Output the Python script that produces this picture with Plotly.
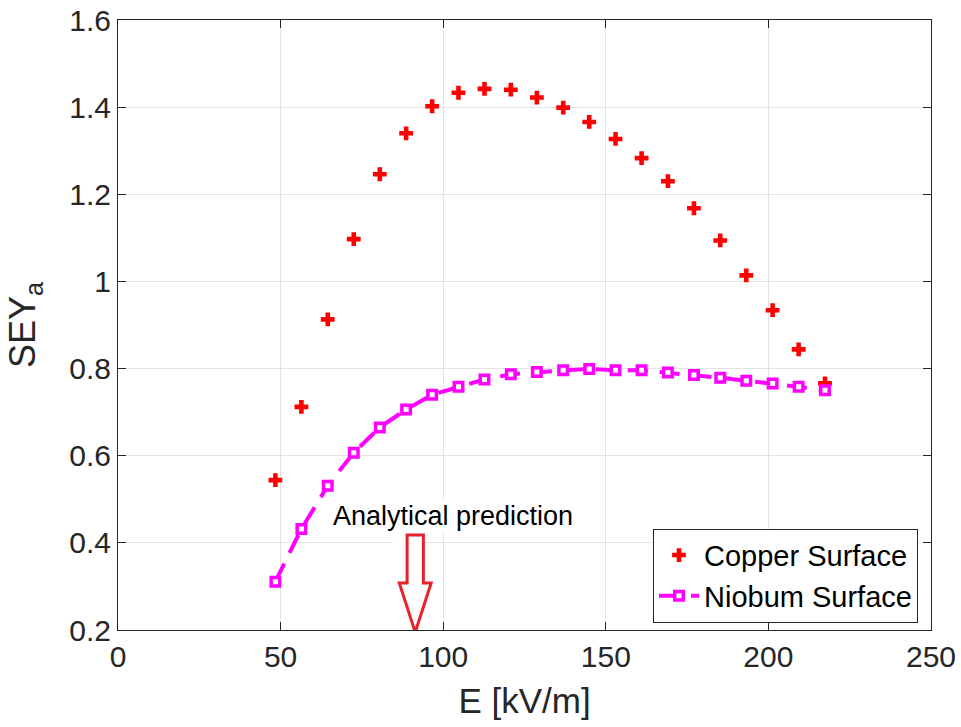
import plotly.graph_objects as go

# Electric field strength [kV/m]
e_field = [48.4, 56.4, 64.5, 72.5, 80.5, 88.6, 96.6, 104.7, 112.7, 120.8, 128.8,
           136.9, 144.9, 153.0, 161.0, 169.1, 177.1, 185.2, 193.2, 201.3, 209.3, 217.4]

# Secondary electron yield for each surface
sey_copper = [0.544, 0.712, 0.913, 1.097, 1.246, 1.340, 1.402, 1.433, 1.442, 1.440, 1.422,
              1.399, 1.366, 1.327, 1.283, 1.230, 1.168, 1.094, 1.014, 0.934, 0.844, 0.766]
sey_niobium = [0.311, 0.432, 0.531, 0.607, 0.665, 0.706, 0.740, 0.758, 0.775, 0.787, 0.792,
               0.796, 0.799, 0.796, 0.796, 0.791, 0.785, 0.779, 0.772, 0.766, 0.758, 0.750]

x_ticks = [0, 50, 100, 150, 200, 250]
y_ticks = [0.2, 0.4, 0.6, 0.8, 1.0, 1.2, 1.4, 1.6]
y_tick_text = ["0.2", "0.4", "0.6", "0.8", "1", "1.2", "1.4", "1.6"]

# Field value marked by the analytical model
analytical_e = 91.4

FONT = "Liberation Sans, Arial, sans-serif"
AXIS_COLOR = "#262626"
ARROW_RED = "#e8222b"

fig = go.Figure()

fig.add_trace(go.Scatter(
    x=e_field, y=sey_copper, mode="markers", name="Copper Surface",
    marker=dict(symbol="cross", size=11.5, color="#ff0000", line=dict(width=0)),
))
fig.add_trace(go.Scatter(
    x=e_field, y=sey_niobium, mode="lines+markers", name="Niobum Surface",
    line=dict(color="#ff00ff", width=4, dash="20px,12px"),
    marker=dict(symbol="square", size=8.5, color="white",
                line=dict(color="#ff00ff", width=3.5)),
))

# Hollow arrow pointing at the analytical prediction
hw_head, hw_shaft = 4.9, 2.5
y_top, y_base, y_tip = 0.418, 0.308, 0.195
x0 = analytical_e
arrow_path = (
    f"M {x0 - hw_shaft},{y_top} L {x0 + hw_shaft},{y_top} "
    f"L {x0 + hw_shaft},{y_base} L {x0 + hw_head},{y_base} "
    f"L {x0},{y_tip} L {x0 - hw_head},{y_base} "
    f"L {x0 - hw_shaft},{y_base} Z"
)
fig.add_shape(type="rect", xref="x", yref="y",
              x0=x0 - 7, x1=x0 + 2.8, y0=0.21, y1=0.48,
              fillcolor="white", line=dict(width=0), layer="above")
fig.add_shape(type="path", path=arrow_path, xref="x", yref="y",
              fillcolor="white", line=dict(color=ARROW_RED, width=3),
              layer="above")

fig.add_annotation(
    x=103, y=0.461, xref="x", yref="y", text="Analytical prediction",
    showarrow=False, bgcolor="white",
    font=dict(family=FONT, size=27, color="black"),
)

axis_common = dict(
    showline=True, linecolor=AXIS_COLOR, linewidth=1, mirror="allticks",
    ticks="inside", ticklen=8, tickcolor=AXIS_COLOR, tickwidth=1,
    showgrid=True, gridcolor="#e3e3e3", gridwidth=1, zeroline=False,
    automargin=False,
    tickfont=dict(family=FONT, size=30, color=AXIS_COLOR),
)

fig.update_xaxes(
    range=[0, 250], tickvals=x_ticks,
    title=dict(text="E [kV/m]", font=dict(family=FONT, size=35, color=AXIS_COLOR),
               standoff=16),
    **axis_common,
)
fig.update_yaxes(
    range=[0.2, 1.6], tickvals=y_ticks, ticktext=y_tick_text,
    title=dict(text="SEY<sub>a</sub>", font=dict(family=FONT, size=36, color=AXIS_COLOR),
               standoff=22),
    **axis_common,
)

fig.update_layout(
    width=961, height=727,
    margin=dict(l=118, r=30, t=20, b=97),
    paper_bgcolor="white", plot_bgcolor="white",
    showlegend=True,
    legend=dict(
        x=0.984, y=0.012, xanchor="right", yanchor="bottom",
        bgcolor="white", bordercolor=AXIS_COLOR, borderwidth=1,
        font=dict(family=FONT, size=29, color="black"),
        itemwidth=40, tracegroupgap=0,
    ),
)

fig.write_html("out.html")
